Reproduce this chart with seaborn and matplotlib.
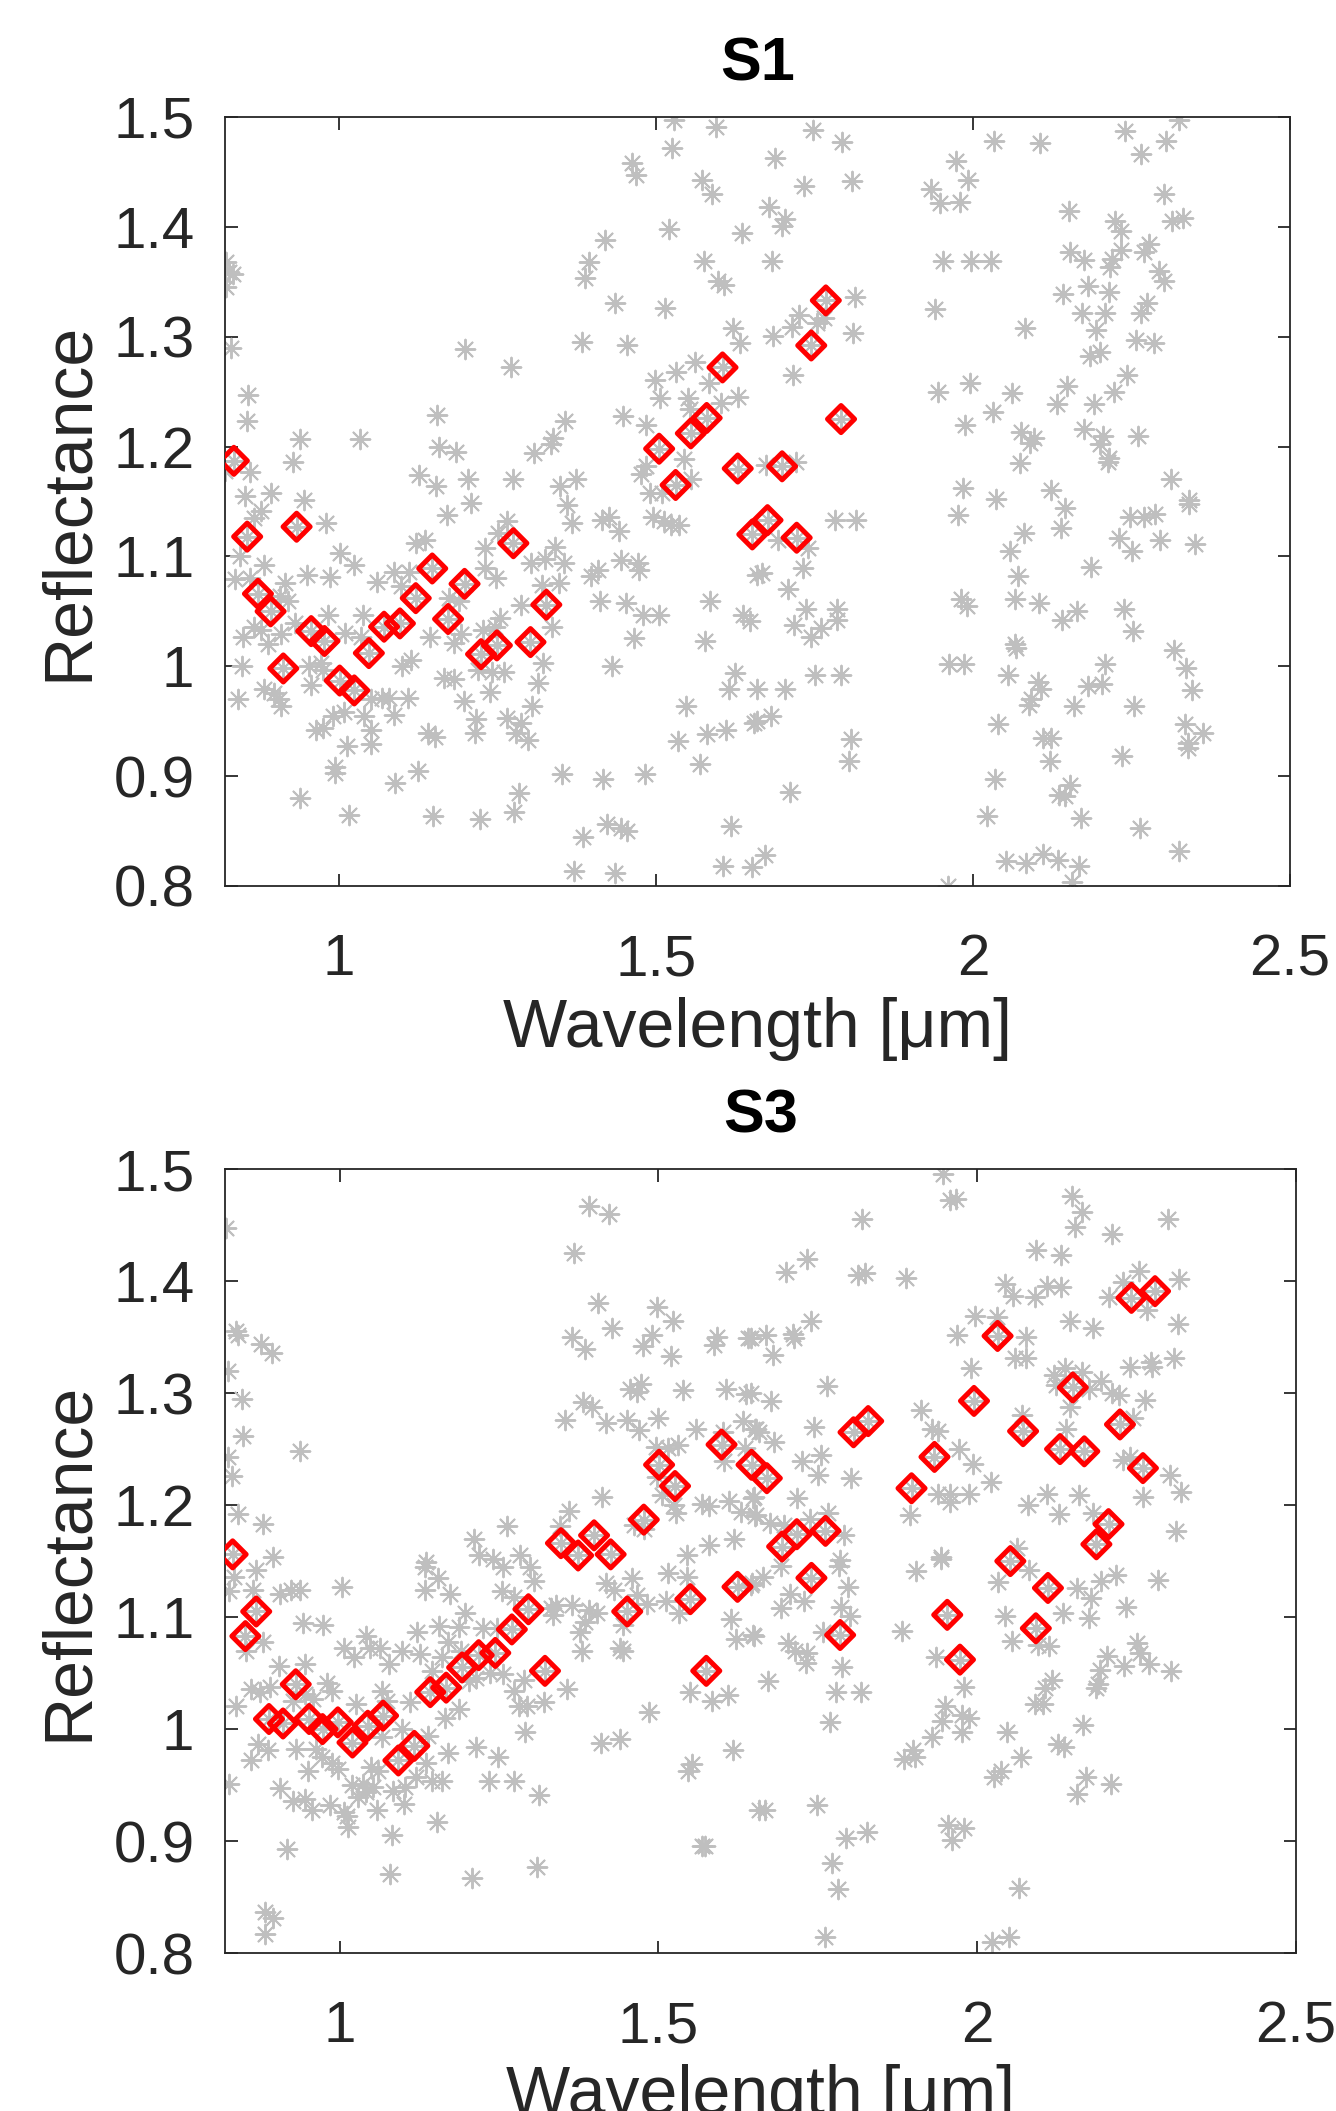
import matplotlib
matplotlib.use("Agg")
import matplotlib.pyplot as plt
import numpy as np
import pandas as pd
import seaborn as sns

# ---------------- data ----------------
s1_red_x = [0.834, 0.855, 0.872, 0.892, 0.912, 0.933, 0.956, 0.977, 1.001, 1.024, 1.047,
            1.071, 1.096, 1.121, 1.147, 1.172, 1.198, 1.224, 1.249, 1.275, 1.302, 1.327,
            1.505, 1.531, 1.555, 1.580, 1.605, 1.629, 1.652, 1.676, 1.699, 1.722, 1.745,
            1.768, 1.792]
s1_red_y = [1.187, 1.118, 1.066, 1.050, 0.998, 1.127, 1.032, 1.023, 0.987, 0.978, 1.012,
            1.036, 1.039, 1.062, 1.089, 1.043, 1.075, 1.011, 1.019, 1.112, 1.022, 1.056,
            1.198, 1.165, 1.212, 1.226, 1.272, 1.180, 1.120, 1.133, 1.182, 1.117, 1.292,
            1.333, 1.225]

s1_gray = [
    (1.529, 1.497), (1.594, 1.491), (1.526, 1.472), (1.462, 1.458), (1.468, 1.447), (1.572, 1.443),
    (1.589, 1.430), (1.521, 1.398), (1.635, 1.394), (1.420, 1.388), (1.394, 1.368), (1.388, 1.353),
    (1.576, 1.369), (1.598, 1.351), (1.608, 1.347), (1.435, 1.331), (1.515, 1.326), (1.621, 1.308),
    (1.632, 1.294), (1.383, 1.295), (1.454, 1.292), (1.199, 1.289), (1.271, 1.272), (1.561, 1.277),
    (1.532, 1.268), (1.499, 1.261), (1.584, 1.258), (1.507, 1.244), (1.551, 1.244), (1.629, 1.245),
    (1.602, 1.240), (1.553, 1.234), (1.448, 1.228), (1.485, 1.220), (1.357, 1.223), (1.337, 1.208),
    (1.335, 1.202), (1.307, 1.194), (1.545, 1.189), (1.485, 1.182), (1.476, 1.175), (1.556, 1.170),
    (1.374, 1.170), (1.348, 1.164), (1.491, 1.158), (1.510, 1.158), (1.274, 1.170), (1.204, 1.170),
    (1.153, 1.164), (1.126, 1.174), (1.158, 1.200), (1.184, 1.195), (1.155, 1.229), (1.033, 1.207),
    (0.938, 1.207), (0.927, 1.186), (0.892, 1.158), (0.852, 1.155), (0.945, 1.151), (0.860, 1.177),
    (0.820, 1.178), (0.856, 1.247), (0.854, 1.223), (0.830, 1.290), (0.822, 1.368), (0.827, 1.359),
    (0.822, 1.345), (0.833, 1.357), (1.208, 1.149), (1.360, 1.147),
    (1.748, 1.488), (1.794, 1.477), (1.688, 1.463), (1.809, 1.442), (1.734, 1.437), (1.678, 1.418),
    (1.704, 1.407), (1.699, 1.401), (1.683, 1.369), (1.814, 1.336), (1.726, 1.320), (1.715, 1.309),
    (1.754, 1.312), (1.765, 1.317), (1.685, 1.301), (1.811, 1.303), (1.716, 1.265), (1.674, 1.183),
    (1.721, 1.186), (1.973, 1.460), (1.992, 1.443), (1.934, 1.434), (1.948, 1.422),
    (1.980, 1.423), (2.034, 1.478), (2.106, 1.476), (2.240, 1.487), (2.304, 1.478), (2.265, 1.466),
    (2.326, 1.497), (2.302, 1.430), (2.151, 1.414), (2.225, 1.405), (2.233, 1.396), (2.314, 1.405),
    (2.332, 1.408), (1.953, 1.369), (1.997, 1.369), (2.029, 1.369), (2.154, 1.377), (2.175, 1.370),
    (2.219, 1.371), (2.217, 1.363), (2.233, 1.379), (2.270, 1.377), (2.278, 1.384), (2.294, 1.360),
    (2.302, 1.351), (2.142, 1.339), (2.182, 1.346), (2.215, 1.341), (1.940, 1.325), (2.172, 1.322),
    (2.209, 1.322), (2.275, 1.331), (2.266, 1.322), (2.194, 1.306), (2.082, 1.308), (2.258, 1.297),
    (2.286, 1.294), (2.185, 1.282), (2.200, 1.286), (2.243, 1.265), (1.945, 1.250), (1.995, 1.258),
    (2.061, 1.249), (2.148, 1.255), (2.132, 1.239), (2.191, 1.239), (2.222, 1.250), (2.031, 1.231),
    (1.988, 1.220), (2.076, 1.213), (2.096, 1.208), (2.090, 1.203), (2.176, 1.216), (2.206, 1.210),
    (2.200, 1.202), (2.261, 1.210), (2.214, 1.190), (2.213, 1.186), (2.075, 1.185), (2.312, 1.170),
    (1.984, 1.162), (2.037, 1.152), (2.124, 1.160), (2.341, 1.151),
    (0.866, 1.135), (0.877, 1.141), (0.980, 1.130), (1.170, 1.138), (1.265, 1.132), (1.251, 1.121),
    (1.368, 1.130), (1.415, 1.133), (1.426, 1.136), (1.441, 1.123), (1.496, 1.136), (1.523, 1.129),
    (1.537, 1.129), (1.512, 1.132), (0.844, 1.100), (1.002, 1.103), (1.023, 1.092), (0.882, 1.092),
    (0.836, 1.079), (0.860, 1.080), (0.915, 1.076), (0.950, 1.083), (0.985, 1.081), (0.920, 1.059),
    (0.907, 1.064), (1.060, 1.077), (1.086, 1.086), (1.110, 1.086), (1.097, 1.073), (1.121, 1.112),
    (1.136, 1.115), (1.230, 1.108), (1.230, 1.089), (1.247, 1.080), (1.303, 1.094), (1.325, 1.098),
    (1.341, 1.109), (1.355, 1.094), (1.320, 1.074), (1.347, 1.076), (1.174, 1.062), (1.189, 1.059),
    (1.287, 1.056), (1.398, 1.082), (1.409, 1.088), (1.445, 1.097), (1.472, 1.094), (1.474, 1.088),
    (1.412, 1.059), (1.453, 1.058), (1.480, 1.047), (1.504, 1.047), (1.586, 1.059), (1.638, 1.047),
    (1.649, 1.041), (1.659, 1.083), (0.983, 1.047), (1.037, 1.047), (0.849, 1.027), (0.866, 1.036),
    (0.877, 1.033), (0.888, 1.020), (0.909, 1.029), (0.931, 1.039), (1.010, 1.030), (1.034, 1.027),
    (1.143, 1.027), (1.181, 1.021), (1.192, 1.029), (1.227, 1.033), (1.254, 1.044), (1.246, 1.036),
    (1.336, 1.036), (1.466, 1.026), (1.578, 1.023), (0.847, 1.000), (0.953, 1.000), (0.972, 1.003),
    (0.974, 0.997), (1.099, 1.000), (1.113, 1.006), (1.219, 0.997), (1.241, 0.995), (1.260, 0.995),
    (1.322, 1.003), (1.431, 1.000), (1.624, 0.994), (0.882, 0.979), (0.898, 0.976), (0.955, 0.983),
    (0.906, 0.970), (0.841, 0.970), (0.909, 0.964), (1.165, 0.989), (1.181, 0.988), (1.314, 0.985),
    (1.238, 0.977), (1.616, 0.979), (1.659, 0.979), (1.051, 0.970), (1.067, 0.971), (1.078, 0.971),
    (1.108, 0.971), (1.197, 0.968), (1.305, 0.964), (1.548, 0.964), (0.991, 0.955), (1.007, 0.958),
    (1.040, 0.955), (1.086, 0.956), (1.216, 0.952), (1.265, 0.953), (1.287, 0.948), (0.964, 0.942),
    (0.974, 0.944), (1.051, 0.942), (1.140, 0.939), (1.151, 0.936), (1.214, 0.939), (1.279, 0.939),
    (1.298, 0.933), (1.534, 0.932), (1.580, 0.938), (1.610, 0.942), (1.654, 0.948), (1.013, 0.927),
    (1.051, 0.929), (0.993, 0.908), (0.994, 0.903), (1.570, 0.911), (1.124, 0.905), (1.089, 0.894),
    (1.352, 0.902), (1.417, 0.897), (1.483, 0.902), (1.284, 0.885), (0.939, 0.880), (1.015, 0.865),
    (1.148, 0.864), (1.222, 0.861), (1.276, 0.867), (1.423, 0.856), (1.445, 0.853), (1.455, 0.850),
    (1.385, 0.845), (1.618, 0.855), (1.371, 0.814), (1.436, 0.812), (1.605, 0.818), (1.651, 0.817),
    (2.145, 1.144), (1.977, 1.138), (1.782, 1.133), (1.815, 1.133), (1.693, 1.115), (1.740, 1.108),
    (1.732, 1.089), (1.668, 1.085), (1.709, 1.070), (1.736, 1.052), (1.786, 1.052), (1.785, 1.042),
    (1.718, 1.038), (1.760, 1.035), (1.745, 1.027), (1.751, 0.992), (1.792, 0.992), (1.703, 0.979),
    (1.659, 0.950), (1.682, 0.955), (1.807, 0.934), (1.804, 0.914), (1.711, 0.886), (1.672, 0.828),
    (2.081, 1.121), (2.059, 1.105), (2.139, 1.126), (2.248, 1.136), (2.270, 1.136), (2.287, 1.139),
    (2.341, 1.148), (2.230, 1.117), (2.251, 1.105), (2.296, 1.115), (2.351, 1.111), (2.187, 1.090),
    (2.071, 1.082), (1.981, 1.061), (1.991, 1.055), (2.067, 1.061), (2.104, 1.058), (2.140, 1.042),
    (2.164, 1.050), (2.239, 1.052), (2.253, 1.032), (2.067, 1.020), (2.068, 1.017), (1.963, 1.002),
    (1.986, 1.002), (2.056, 0.992), (2.208, 1.002), (2.318, 1.015), (2.336, 0.998), (2.346, 0.978),
    (2.181, 0.982), (2.204, 0.984), (2.102, 0.986), (2.107, 0.979), (2.092, 0.970), (2.089, 0.965),
    (2.160, 0.964), (2.255, 0.964), (2.039, 0.947), (2.111, 0.935), (2.124, 0.935), (2.121, 0.914),
    (2.236, 0.918), (2.335, 0.947), (2.363, 0.939), (2.339, 0.930), (2.340, 0.926), (2.035, 0.897),
    (2.154, 0.892), (2.136, 0.883), (2.146, 0.882), (2.023, 0.864), (2.171, 0.862), (2.263, 0.853),
    (2.325, 0.832), (2.053, 0.823), (2.084, 0.821), (2.111, 0.829), (2.135, 0.824), (2.167, 0.818),
    (2.157, 0.804), (1.960, 0.800),
]

s3_red_x = [0.832, 0.852, 0.869, 0.889, 0.911, 0.931, 0.952, 0.973, 0.997, 1.020, 1.044,
            1.068, 1.092, 1.117, 1.142, 1.167, 1.192, 1.218, 1.244, 1.270, 1.296, 1.322,
            1.347, 1.374, 1.399, 1.425, 1.451, 1.477, 1.501, 1.526, 1.550, 1.575, 1.599,
            1.624, 1.646, 1.670, 1.694, 1.717, 1.740, 1.762, 1.785, 1.806, 1.829, 1.897,
            1.933, 1.953, 1.973, 1.995, 2.032, 2.052, 2.072, 2.092, 2.111, 2.130, 2.150,
            2.168, 2.187, 2.206, 2.224, 2.242, 2.260, 2.279]
s3_red_y = [1.156, 1.083, 1.105, 1.009, 1.005, 1.040, 1.009, 1.000, 1.006, 0.988, 1.003,
            1.012, 0.972, 0.985, 1.033, 1.037, 1.055, 1.066, 1.068, 1.089, 1.107, 1.052,
            1.166, 1.155, 1.173, 1.156, 1.105, 1.187, 1.236, 1.217, 1.116, 1.052, 1.254,
            1.127, 1.236, 1.224, 1.163, 1.174, 1.135, 1.177, 1.084, 1.265, 1.275, 1.215,
            1.243, 1.102, 1.062, 1.293, 1.351, 1.150, 1.266, 1.090, 1.126, 1.250, 1.305,
            1.248, 1.165, 1.183, 1.272, 1.385, 1.233, 1.391]

s3_gray = [
    (0.822, 1.447), (1.391, 1.467), (1.422, 1.460), (1.368, 1.425), (0.840, 1.352), (0.838, 1.355),
    (0.877, 1.344), (0.894, 1.336), (0.824, 1.320), (0.847, 1.295), (0.849, 1.262), (0.937, 1.248),
    (0.824, 1.243), (0.831, 1.226), (0.841, 1.192), (0.880, 1.183), (0.895, 1.154), (1.405, 1.380),
    (1.497, 1.377), (1.523, 1.364), (1.427, 1.358), (1.365, 1.350), (1.385, 1.339), (1.490, 1.352),
    (1.476, 1.342), (1.520, 1.333), (1.592, 1.350), (1.587, 1.343), (1.641, 1.349), (1.472, 1.308),
    (1.455, 1.304), (1.466, 1.301), (1.539, 1.303), (1.606, 1.304), (1.638, 1.299), (1.381, 1.292),
    (1.395, 1.288), (1.353, 1.276), (1.417, 1.273), (1.450, 1.276), (1.470, 1.267), (1.499, 1.278),
    (1.559, 1.268), (1.602, 1.265), (1.633, 1.275), (1.652, 1.268), (1.496, 1.252), (1.515, 1.251),
    (1.531, 1.254), (1.635, 1.251), (1.603, 1.239), (1.498, 1.225), (1.506, 1.209), (1.525, 1.200),
    (1.528, 1.193), (1.412, 1.207), (1.360, 1.195), (1.345, 1.181), (1.461, 1.182), (1.477, 1.179),
    (1.568, 1.201), (1.579, 1.199), (1.610, 1.204), (1.630, 1.194), (1.649, 1.206), (1.652, 1.190),
    (1.619, 1.170), (1.579, 1.164), (1.544, 1.155), (1.262, 1.181), (1.211, 1.170), (1.218, 1.155),
    (1.240, 1.152), (1.283, 1.155), (1.135, 1.149),
    (1.947, 1.496), (1.957, 1.472), (1.967, 1.473), (2.149, 1.476), (2.164, 1.462), (2.153, 1.448),
    (2.212, 1.442), (2.299, 1.455), (1.820, 1.455), (1.733, 1.420), (1.700, 1.408), (1.813, 1.405),
    (1.824, 1.407), (1.888, 1.403), (2.092, 1.428), (2.131, 1.423), (2.043, 1.397), (2.056, 1.387),
    (2.091, 1.386), (2.109, 1.396), (2.131, 1.395), (2.254, 1.409), (2.228, 1.399), (2.206, 1.386),
    (2.317, 1.402), (2.266, 1.374), (2.315, 1.362), (1.997, 1.369), (2.031, 1.368), (1.969, 1.352),
    (2.077, 1.350), (2.146, 1.364), (2.182, 1.358), (1.740, 1.364), (1.711, 1.353), (1.713, 1.349),
    (1.669, 1.352), (1.645, 1.349), (1.680, 1.334), (2.059, 1.331), (2.076, 1.331), (1.990, 1.322),
    (2.120, 1.316), (2.138, 1.322), (2.164, 1.319), (2.194, 1.311), (2.123, 1.307), (2.175, 1.304),
    (2.211, 1.300), (2.222, 1.298), (2.239, 1.323), (2.272, 1.328), (2.275, 1.323), (2.308, 1.331),
    (2.264, 1.294), (2.145, 1.288), (1.764, 1.306), (1.676, 1.293), (1.645, 1.300), (1.912, 1.285),
    (1.929, 1.268), (1.939, 1.266), (2.070, 1.280), (2.139, 1.268), (2.244, 1.278), (1.744, 1.270),
    (1.653, 1.268), (1.658, 1.265), (1.682, 1.256), (1.725, 1.239), (1.755, 1.245), (1.751, 1.227),
    (1.802, 1.224), (1.972, 1.250), (1.994, 1.237), (2.022, 1.221), (2.228, 1.240), (2.239, 1.243),
    (2.302, 1.227), (2.319, 1.212), (2.260, 1.207), (1.938, 1.210), (1.957, 1.210), (1.987, 1.210),
    (1.957, 1.203), (2.080, 1.200), (2.110, 1.210), (2.159, 1.209), (2.128, 1.192), (2.181, 1.193),
    (1.895, 1.191), (1.718, 1.206), (1.650, 1.207), (1.653, 1.191), (1.675, 1.184), (1.697, 1.182),
    (1.737, 1.188), (1.766, 1.193), (1.791, 1.173), (2.312, 1.177), (2.062, 1.162), (1.943, 1.154),
    (1.785, 1.151),
    (0.834, 1.136), (0.869, 1.142), (0.826, 1.123), (0.864, 1.124), (0.907, 1.121), (0.923, 1.124),
    (0.937, 1.124), (1.003, 1.127), (1.134, 1.145), (1.154, 1.135), (1.133, 1.124), (1.173, 1.121),
    (1.256, 1.145), (1.254, 1.123), (1.273, 1.118), (1.299, 1.145), (1.305, 1.132), (1.418, 1.130),
    (1.431, 1.124), (1.458, 1.135), (1.466, 1.120), (1.482, 1.112), (1.515, 1.139), (1.544, 1.136),
    (1.512, 1.114), (1.533, 1.104), (1.646, 1.130), (1.614, 1.098), (1.622, 1.080), (1.649, 1.084),
    (1.197, 1.104), (1.332, 1.108), (1.335, 1.102), (1.340, 1.111), (1.364, 1.111), (1.391, 1.106),
    (1.404, 1.104), (0.942, 1.095), (0.973, 1.093), (1.122, 1.087), (1.155, 1.092), (1.187, 1.091),
    (1.224, 1.090), (1.246, 1.090), (1.377, 1.087), (1.385, 1.096), (1.445, 1.093), (0.880, 1.078),
    (0.853, 1.070), (1.041, 1.083), (1.047, 1.072), (1.006, 1.072), (1.023, 1.064), (1.063, 1.072),
    (1.098, 1.070), (1.126, 1.067), (1.078, 1.058), (1.170, 1.078), (1.191, 1.070), (1.160, 1.064),
    (1.380, 1.070), (1.439, 1.072), (1.445, 1.070), (0.904, 1.056), (0.945, 1.058), (1.144, 1.052),
    (1.213, 1.046), (1.235, 1.050), (1.256, 1.049), (1.289, 1.044), (0.861, 1.036), (0.875, 1.033),
    (0.891, 1.038), (0.980, 1.041), (0.988, 1.034), (0.945, 1.031), (0.837, 1.021), (0.926, 1.025),
    (0.958, 1.027), (1.025, 1.022), (1.066, 1.034), (1.074, 1.025), (1.111, 1.024), (1.203, 1.043),
    (1.187, 1.018), (1.165, 1.010), (1.273, 1.034), (1.281, 1.021), (1.294, 1.021), (1.321, 1.024),
    (1.356, 1.036), (1.549, 1.033), (1.584, 1.025), (1.609, 1.030), (1.485, 1.015), (1.291, 0.997),
    (1.410, 0.988), (1.439, 0.991), (1.617, 0.981), (1.552, 0.969), (1.547, 0.963), (0.872, 0.987),
    (0.888, 0.981), (0.861, 0.972), (0.931, 0.982), (0.963, 0.982), (0.972, 0.975), (1.098, 1.000),
    (1.066, 0.993), (1.138, 0.994), (1.135, 0.970), (1.170, 0.979), (1.213, 0.984), (1.248, 0.975),
    (0.950, 0.963), (0.988, 0.970), (0.998, 0.964), (1.049, 0.966), (1.060, 0.963), (1.119, 0.957),
    (1.144, 0.954), (1.160, 0.954), (1.234, 0.954), (1.273, 0.954), (0.826, 0.951), (0.907, 0.947),
    (0.926, 0.936), (0.945, 0.938), (0.956, 0.928), (0.985, 0.932), (1.006, 0.926), (1.012, 0.922),
    (1.013, 0.913), (1.020, 0.950), (1.036, 0.951), (1.041, 0.944), (1.052, 0.948), (1.028, 0.939),
    (1.058, 0.928), (1.084, 0.945), (1.103, 0.948), (1.101, 0.933), (1.152, 0.917), (1.313, 0.941),
    (1.082, 0.905), (0.918, 0.893), (1.568, 0.896), (1.573, 0.896), (1.310, 0.877), (1.079, 0.871),
    (1.208, 0.867), (0.883, 0.837), (0.896, 0.831), (0.883, 0.817), (1.657, 0.928),
    (1.692, 1.146), (1.783, 1.146), (1.904, 1.141), (1.943, 1.152), (1.664, 1.136), (1.645, 1.129),
    (1.706, 1.121), (1.728, 1.114), (1.692, 1.108), (1.797, 1.127), (1.786, 1.109), (1.800, 1.101),
    (1.758, 1.087), (1.650, 1.083), (1.703, 1.077), (1.714, 1.070), (1.733, 1.068), (1.731, 1.059),
    (1.788, 1.055), (1.672, 1.043), (1.779, 1.033), (1.818, 1.033), (1.769, 1.006), (1.882, 1.088),
    (1.935, 1.064), (1.979, 1.038), (1.949, 1.021), (1.945, 1.007), (1.976, 1.013), (1.987, 1.010),
    (1.976, 0.997), (1.929, 0.993), (1.899, 0.981), (1.885, 0.973), (1.902, 0.975), (2.033, 1.131),
    (2.081, 1.142), (2.156, 1.126), (2.178, 1.117), (2.194, 1.132), (2.217, 1.138), (2.283, 1.133),
    (2.233, 1.109), (2.134, 1.104), (2.175, 1.099), (2.044, 1.101), (2.054, 1.079), (2.095, 1.075),
    (2.112, 1.074), (2.250, 1.077), (2.256, 1.068), (2.203, 1.065), (2.230, 1.056), (2.269, 1.058),
    (2.304, 1.052), (2.192, 1.053), (2.117, 1.044), (2.106, 1.037), (2.186, 1.037), (2.189, 1.040),
    (2.090, 1.022), (2.103, 1.022), (2.166, 1.004), (2.046, 0.997), (2.127, 0.987), (2.136, 0.984),
    (2.069, 0.975), (2.037, 0.963), (2.026, 0.957), (2.170, 0.957), (2.210, 0.951), (2.157, 0.942),
    (1.667, 0.928), (1.748, 0.932), (1.794, 0.903), (1.827, 0.908), (1.954, 0.914), (1.980, 0.912),
    (1.960, 0.901), (1.772, 0.880), (1.781, 0.857), (2.065, 0.858), (1.761, 0.814), (2.023, 0.810),
    (2.050, 0.814),
]

panel_titles = ["S1", "S3"]
x_ticks = [1, 1.5, 2, 2.5]
x_tick_labels = ["1", "1.5", "2", "2.5"]
y_ticks = [0.8, 0.9, 1.0, 1.1, 1.2, 1.3, 1.4, 1.5]
y_tick_labels = ["0.8", "0.9", "1", "1.1", "1.2", "1.3", "1.4", "1.5"]

# ---------------- style ----------------
sns.set_theme(style="white")
plt.rcParams["font.family"] = ["Liberation Sans", "DejaVu Sans"]

GRAY = "#bfbfbf"
TXT = "#262626"
ASTERISK = (8, 2, 0)

fig = plt.figure(figsize=(13.36, 21.11), dpi=100)
ax1 = fig.add_axes([0.1684, 0.5803, 0.7970, 0.3643])
ax2 = fig.add_axes([0.1684, 0.0748, 0.8016, 0.3714])


def draw(ax, gray_pts, rx, ry, title):
    gx = [p[0] for p in gray_pts] + list(rx)
    gy = [p[1] for p in gray_pts] + list(ry)
    gdf = pd.DataFrame({"Wavelength": gx, "Reflectance": gy})
    sns.scatterplot(data=gdf, x="Wavelength", y="Reflectance", ax=ax,
                    marker=ASTERISK, s=200, color=GRAY, linewidth=1.4,
                    legend=False, zorder=2)
    rdf = pd.DataFrame({"Wavelength": rx, "Reflectance": ry})
    sns.scatterplot(data=rdf, x="Wavelength", y="Reflectance", ax=ax,
                    marker="D", s=190, facecolor="none", edgecolor="red",
                    linewidth=3.6, legend=False, zorder=3)
    ax.set_xlim(0.82, 2.5)
    ax.set_ylim(0.8, 1.5)
    ax.set_xticks(x_ticks)
    ax.set_xticklabels(x_tick_labels)
    ax.set_yticks(y_ticks)
    ax.set_yticklabels(y_tick_labels)
    ax.tick_params(axis="both", direction="in", length=9, width=1.3,
                   top=True, right=True, bottom=True, left=True,
                   labelsize=42, labelcolor=TXT, color=TXT)
    ax.tick_params(axis="x", pad=34)
    ax.tick_params(axis="y", pad=22)
    for sp in ax.spines.values():
        sp.set_visible(True)
        sp.set_color(TXT)
        sp.set_linewidth(1.3)
    ax.set_xlabel("Wavelength [\u03bcm]", fontsize=49, color=TXT, labelpad=7)
    ax.set_ylabel("Reflectance", fontsize=49, color=TXT, labelpad=9)
    ax.set_title(title, fontsize=44, fontweight="bold", color="black", pad=26)
    ax.set_facecolor("white")


draw(ax1, s1_gray, s1_red_x, s1_red_y, panel_titles[0])
draw(ax2, s3_gray, s3_red_x, s3_red_y, panel_titles[1])

fig.savefig("out.png", dpi=100, facecolor="white")
